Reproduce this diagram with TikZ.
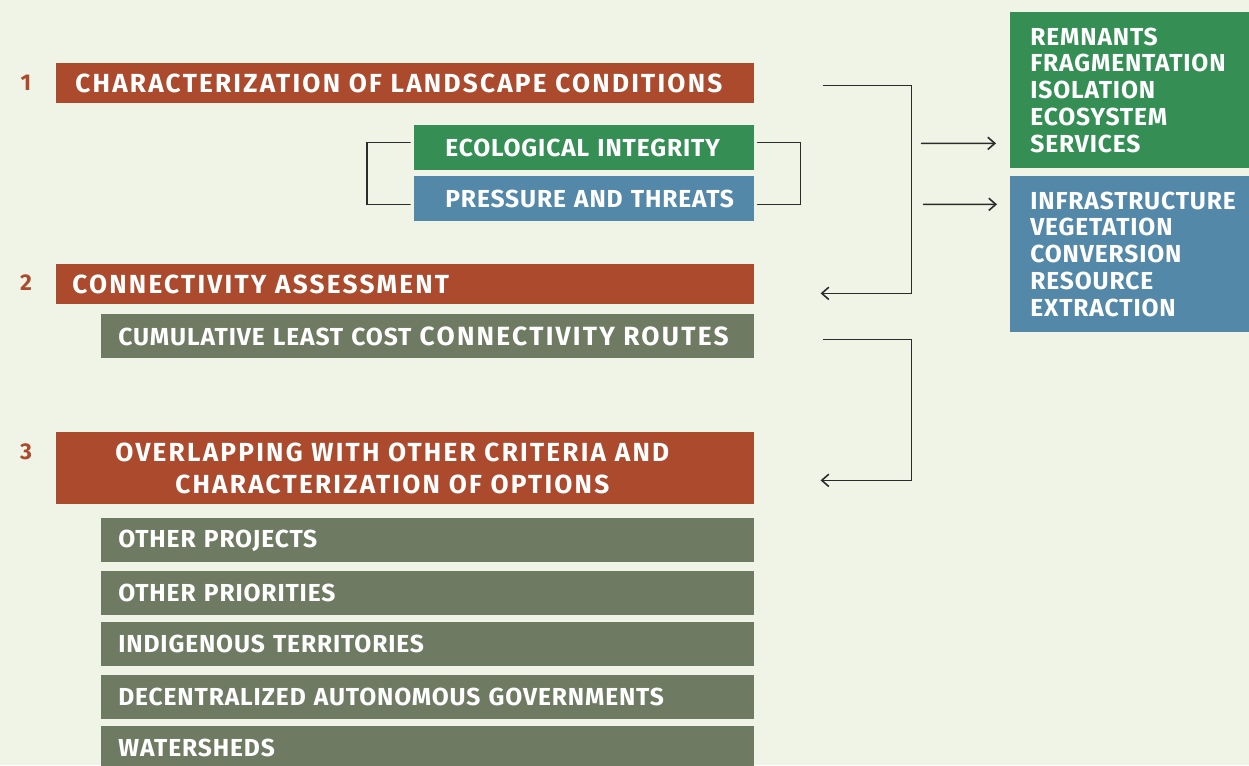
\documentclass[tikz,border=0pt]{standalone}
\usepackage{fontspec}
\setmainfont{Fira Sans}
\newfontfamily\headfont{Fira Sans}[LetterSpace=8.5]
\newfontfamily\itemfont{Fira Sans}[LetterSpace=3.5]
\usetikzlibrary{arrows.meta}

\definecolor{paper}{HTML}{F0F4E6}
\definecolor{stepred}{HTML}{AB4A2C}
\definecolor{integrgreen}{HTML}{358F55}
\definecolor{threatblue}{HTML}{5388A8}
\definecolor{routegrey}{HTML}{6E7B62}
\definecolor{wire}{HTML}{2B2B2B}

\begin{document}
\begin{tikzpicture}[x=0.02cm,y=-0.02cm,line cap=round]
  % Styles and colors
  \tikzset{
    box/.style={anchor=north west, inner ysep=0pt, text=white, align=left,
      font=\itemfont\bfseries\fontsize{14}{16}\selectfont},
    stepbox/.style={box, fill=stepred, minimum height=0.8cm,
      font=\headfont\bfseries\fontsize{14.9}{18.2}\selectfont},
    itembox/.style={box, fill=routegrey, minimum height=0.88cm,
      inner xsep=0.34cm, text width=12.38cm},
    sidebox/.style={box, minimum height=0.89cm, inner xsep=0.31cm, text width=6.18cm,
      execute at begin node={\hspace*{0.31cm}}},
    listbox/.style={box, minimum height=3.12cm, inner xsep=0.4cm, text width=4.3cm,
      font=\itemfont\bfseries\fontsize{14}{15.3}\selectfont},
    num/.style={text=stepred, font=\bfseries\fontsize{13}{15}\selectfont},
    link/.style={draw=wire, line width=0.9pt},
    arrow/.style={link, -{Straight Barb[length=4pt,width=7pt]}}
  }

  % Page
  \fill[paper] (0,0) rectangle (1249,765);
  \useasboundingbox (0,0) rectangle (1249,765);

  % Step 1
  \node[num] (n1) at (26,83) {1};
  \node[stepbox, inner xsep=0.38cm, text width=13.2cm] (head1) at (56,63)
    {CHARACTERIZATION OF LANDSCAPE CONDITIONS};
  \node[sidebox, fill=integrgreen] (eco) at (414,125) {ECOLOGICAL INTEGRITY};
  \node[sidebox, fill=threatblue] (pres) at (414,176) {PRESSURE AND THREATS};

  % Indicator lists
  \node[listbox, fill=integrgreen] (rem) at (1010,12)
    {REMNANTS\\FRAGMENTATION\\ISOLATION\\ECOSYSTEM\\SERVICES};
  \node[listbox, fill=threatblue] (infra) at (1010,176)
    {INFRASTRUCTURE\\VEGETATION\\CONVERSION\\RESOURCE\\EXTRACTION};

  % Step 2
  \node[num] (n2) at (26,283) {2};
  \node[stepbox, inner xsep=0.32cm, text width=13.32cm] (head2) at (56,264)
    {CONNECTIVITY ASSESSMENT};
  \node[itembox] (routes) at (101,314)
    {CUMULATIVE LEAST COST {\headfont\fontsize{15}{16}\selectfont CONNECTIVITY ROUTES}};

  % Step 3
  \node[num] (n3) at (26,452) {3};
  \node[stepbox, minimum height=1.44cm, inner xsep=0.38cm, text width=13.2cm, align=center]
    (head3) at (56,432)
    {OVERLAPPING WITH OTHER CRITERIA AND\makebox[0.52cm]{}\\
     CHARACTERIZATION OF OPTIONS\makebox[0.52cm]{}};
  \node[itembox] (proj) at (101,518) {OTHER PROJECTS};
  \node[itembox] (prio) at (101,571) {OTHER PRIORITIES};
  \node[itembox] (indig) at (101,622) {INDIGENOUS TERRITORIES};
  \node[itembox] (gov) at (101,675) {DECENTRALIZED AUTONOMOUS GOVERNMENTS};
  \node[itembox] (water) at (101,726) {WATERSHEDS};

  % Brackets around the two indicator boxes
  \draw[link] ([shift={(-4,-5)}]eco.west) -- ++(-43,0) |- ([shift={(-4,6)}]pres.west);
  \draw[link] ([shift={(3,-5)}]eco.east) -- ++(43,0) |- ([shift={(3,6)}]pres.east);

  % Step 1 feeds step 2
  \draw[arrow] ([shift={(69,2)}]head1.east) -| ([shift={(157,9)}]head2.east)
    -- ([shift={(66,9)}]head2.east);
  \draw[arrow] ([shift={(167,60)}]head1.east) -- ([shift={(-14,53)}]rem.west);
  \draw[arrow] ([shift={(169,121)}]head1.east) -- ([shift={(-13,-50)}]infra.west);

  % Step 2 feeds step 3
  \draw[arrow] ([shift={(69,3)}]routes.east) -| ([shift={(157,12)}]head3.east)
    -- ([shift={(66,12)}]head3.east);
\end{tikzpicture}
\end{document}
